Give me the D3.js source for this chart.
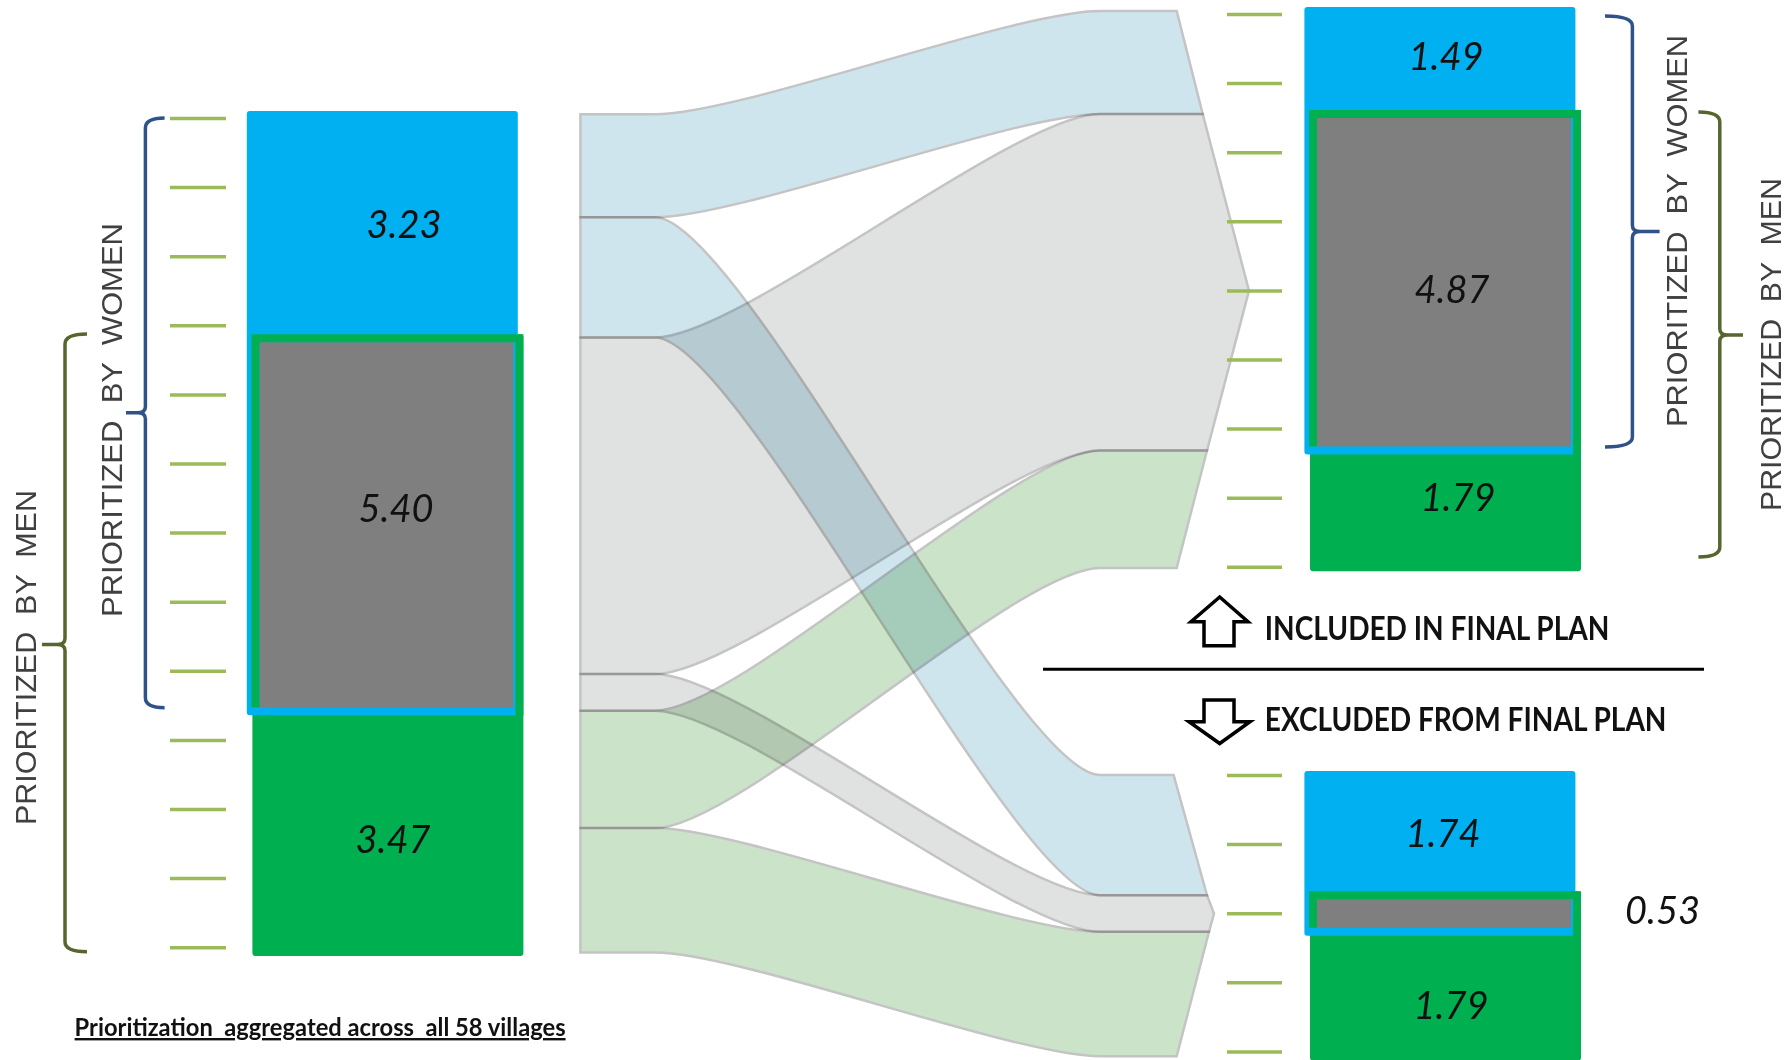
<!DOCTYPE html>
<html>
<head>
<meta charset="utf-8">
<title>Prioritization across villages</title>
<script src="https://d3js.org/d3.v7.min.js"></script>
<style>
  html, body { margin: 0; padding: 0; background: #fff; overflow: hidden; }
  text { white-space: pre; }
</style>
</head>
<body>
<div id="chart"></div>
<script>
// values
const leftValues = [3.23, 5.40, 3.47];
const keptValues = [1.49, 4.87, 1.79];
const droppedValues = [1.74, 0.53, 1.79];
// ribbon thickness as drawn (green ones differ a bit from the printed label)
const keptFlows = [1.49, 4.87, 1.70];
const droppedFlows = [1.74, 0.53, 1.80];
const leftTicks = d3.range(0, 13);
const keptTicks = d3.range(0, 9);
const droppedTicks = d3.range(0, 5);
const womenLabel = "PRIORITIZED  BY  WOMEN";
const menLabel = "PRIORITIZED  BY  MEN";

const width = 1789, height = 1060;
const pxPerUnit = 69.1;
const blue = "#00b0f0", green = "#00b050", gray = "#7f7f7f";
const barW = 271, greenShift = 5.6, edge = 8;

const svg = d3.select("#chart").append("svg")
  .attr("width", width).attr("height", height)
  .style("display", "block");
svg.append("rect").attr("width", width).attr("height", height).attr("fill", "#fff");

const unitScale = (y0) => d3.scaleLinear().domain([0, 1]).range([y0, y0 + pxPerUnit]);

// ---------- ribbons ----------
const ribbonG = svg.append("g");
const leftX = 580.4, flatL = 655, flatR = 1100, handle = 85;
const ribbonColors = ["#cfe5ee", "#e0e1e1", "#cbe3c9"];

// ribbons leave the left column in this order: kept/dropped for each colour
const sourceOrder = [];
keptFlows.forEach((v, i) => {
  sourceOrder.push({ i, v, kept: true });
  sourceOrder.push({ i, v: droppedFlows[i], kept: false });
});
const ySrc = unitScale(114.3);
let srcAt = 0;
sourceOrder.forEach(d => { d.s0 = srcAt; srcAt += d.v; d.s1 = srcAt; });

const keptY = unitScale(11), droppedY = unitScale(775);
const keptCum = d3.cumsum(keptFlows), droppedCum = d3.cumsum(droppedFlows);

// right hand end of the ribbons is a slanted arrow shape
const keptEdge = d3.scaleLinear()
  .domain([0, keptCum[0], keptCum[0] + 0.525 * keptFlows[1], keptCum[1], keptCum[2]])
  .range([1176.7, 1202.7, 1249, 1207, 1176.7]);
const droppedEdge = d3.scaleLinear()
  .domain([0, droppedCum[0], droppedCum[0] + 0.5 * droppedFlows[1], droppedCum[1], droppedCum[2]])
  .range([1173.6, 1207, 1214, 1209, 1176.7]);

function ribbonPath(d) {
  const cum = d.kept ? keptCum : droppedCum;
  const yT = d.kept ? keptY : droppedY;
  const edgeX = d.kept ? keptEdge : droppedEdge;
  const t0 = d.i === 0 ? 0 : cum[d.i - 1], t1 = cum[d.i];
  const p = d3.path();
  p.moveTo(leftX, ySrc(d.s0));
  p.lineTo(flatL, ySrc(d.s0));
  p.bezierCurveTo(flatL + handle, ySrc(d.s0), flatR - handle, yT(t0), flatR, yT(t0));
  p.lineTo(edgeX(t0), yT(t0));
  edgeX.domain().filter(u => u > t0 && u < t1).forEach(u => p.lineTo(edgeX(u), yT(u)));
  p.lineTo(edgeX(t1), yT(t1));
  p.lineTo(flatR, yT(t1));
  p.bezierCurveTo(flatR - handle, yT(t1), flatL + handle, ySrc(d.s1), flatL, ySrc(d.s1));
  p.lineTo(leftX, ySrc(d.s1));
  p.closePath();
  return p.toString();
}

ribbonG.selectAll("path")
  .data(sourceOrder)
  .enter()
  .append("path")
  .attr("d", ribbonPath)
  .attr("fill", d => ribbonColors[d.i])
  .attr("stroke", "#c4c4c4")
  .attr("stroke-width", 2.5)
  .style("mix-blend-mode", "multiply");

// ---------- stacked bars ----------
function drawPanel(cfg) {
  const y = unitScale(cfg.y0);
  const g = svg.append("g");
  const [a, b, c] = cfg.values;
  // green bar first, blue sits over it and the shared part is painted last
  g.append("rect").attr("x", cfg.x + greenShift).attr("y", y(a))
    .attr("width", barW).attr("height", y(a + b + c) + cfg.pad - y(a))
    .attr("rx", 3).attr("fill", green);
  g.append("rect").attr("x", cfg.x).attr("y", y(0))
    .attr("width", barW).attr("height", y(a + b) + edge - y(0))
    .attr("rx", 3).attr("fill", blue);
  g.append("rect").attr("x", cfg.x + greenShift + edge - 1).attr("y", y(a) + edge)
    .attr("width", barW - 2 * edge - 1).attr("height", y(a + b) - y(a) - edge)
    .attr("fill", gray);
  // green frame round the shared part, open at the bottom
  g.append("path")
    .attr("d", `M${cfg.x + greenShift + edge / 2 - 1},${y(a + b)}V${y(a) + edge / 2}H${cfg.x + greenShift + barW - edge / 2}V${y(a + b) + edge}`)
    .attr("fill", "none").attr("stroke", green).attr("stroke-width", edge);

  // ruler ticks, one per unit
  const tickY = unitScale(cfg.tickY0);
  const axis = d3.axisLeft(tickY).tickValues(cfg.ticks).tickSize(cfg.tickLen).tickFormat("");
  const ag = svg.append("g").attr("transform", `translate(${cfg.tickX},0)`).call(axis);
  ag.select(".domain").remove();
  ag.selectAll("line").attr("stroke", "#9bbb59").attr("stroke-width", 3.5);

  // value labels
  svg.append("g").selectAll("text")
    .data(cfg.labels)
    .enter()
    .append("text")
    .attr("x", d => d.x)
    .attr("y", d => d.y)
    .attr("dy", "0.35em")
    .attr("text-anchor", "middle")
    .style("font", "italic 38px Lato")
    .attr("fill", "#111")
    .text((d, i) => cfg.labelValues[i].toFixed(2));
}

drawPanel({
  x: 246.8, y0: 111, pad: 9, values: leftValues, labelValues: leftValues,
  tickY0: 118, ticks: leftTicks, tickX: 226, tickLen: 56,
  labels: [{ x: 404, y: 225 }, { x: 396, y: 509 }, { x: 393, y: 840 }]
});
drawPanel({
  x: 1304.4, y0: 7, pad: 1, values: keptValues, labelValues: keptValues,
  tickY0: 14, ticks: keptTicks, tickX: 1282, tickLen: 55,
  labels: [{ x: 1446, y: 57 }, { x: 1452, y: 290 }, { x: 1458, y: 498 }]
});
drawPanel({
  x: 1304.4, y0: 771, pad: 9, values: droppedValues, labelValues: droppedValues,
  tickY0: 775, ticks: droppedTicks, tickX: 1282, tickLen: 55,
  labels: [{ x: 1443, y: 834 }, { x: 1662.6, y: 911 }, { x: 1451, y: 1006 }]
});

// ---------- braces and rotated labels ----------
function brace(tip, spine, mid, yTop, yMid, yBot, color) {
  const r = 10;
  const p = d3.path();
  const dir = Math.sign(mid - spine);
  p.moveTo(tip, yTop);
  p.quadraticCurveTo(spine, yTop, spine, yTop + r);
  p.lineTo(spine, yMid - 6);
  p.quadraticCurveTo(spine, yMid, spine + dir * 8, yMid);
  p.lineTo(mid, yMid);
  p.moveTo(spine + dir * 8, yMid);
  p.quadraticCurveTo(spine, yMid, spine, yMid + 6);
  p.lineTo(spine, yBot - r);
  p.quadraticCurveTo(spine, yBot, tip, yBot);
  svg.append("path").attr("d", p.toString())
    .attr("fill", "none").attr("stroke", color).attr("stroke-width", 3.5);
}
const braceBlue = "#2f5289", braceGreen = "#56662e";
brace(164.6, 145.4, 126, 118, 412.7, 707.7, braceBlue);
brace(87, 65, 42, 334, 644.5, 951.7, braceGreen);
brace(1605, 1632.4, 1659.6, 16, 231.5, 447, braceBlue);
brace(1698.4, 1719.8, 1743, 112, 335, 557, braceGreen);

function sideLabel(txt, x, y, len) {
  svg.append("text")
    .attr("transform", `translate(${x},${y}) rotate(-90)`)
    .attr("textLength", len)
    .attr("lengthAdjust", "spacingAndGlyphs")
    .style("font", "30px 'Liberation Sans'")
    .attr("fill", "#404040")
    .text(txt);
}
sideLabel(womenLabel, 121.7, 617, 394);
sideLabel(menLabel, 36.4, 825, 335);
sideLabel(womenLabel, 1686.8, 427, 392);
sideLabel(menLabel, 1781, 511, 333);

// ---------- divider, arrows, captions ----------
svg.append("line").attr("x1", 1043).attr("x2", 1704).attr("y1", 669.3).attr("y2", 669.3)
  .attr("stroke", "#000").attr("stroke-width", 3);

const arrowLine = d3.line();
svg.append("path")
  .attr("d", arrowLine([[1219.7, 597], [1248, 621.7], [1234, 621.7], [1234, 645.7], [1204, 645.7], [1204, 621.7], [1191, 621.7]]) + "Z")
  .attr("fill", "#fff").attr("stroke", "#000").attr("stroke-width", 3.5);
svg.append("path")
  .attr("d", arrowLine([[1204, 700], [1234, 700], [1234, 721.7], [1250, 721.7], [1219.7, 743.5], [1189, 721.7], [1204, 721.7]]) + "Z")
  .attr("fill", "#fff").attr("stroke", "#000").attr("stroke-width", 3.5);

function caption(txt, x, y, len, size, underline) {
  svg.append("text")
    .attr("x", x).attr("y", y)
    .attr("textLength", len)
    .attr("lengthAdjust", "spacingAndGlyphs")
    .style("font", `bold ${size}px Lato`)
    .style("text-decoration", underline ? "underline" : "none")
    .attr("fill", "#111")
    .text(txt);
}
caption("INCLUDED IN FINAL PLAN", 1264.8, 640, 344.6, 32);
caption("EXCLUDED FROM FINAL PLAN", 1264.8, 730.7, 401.7, 32);
caption("Prioritization  aggregated across  all 58 villages", 74.6, 1036, 491, 24, true);
</script>
</body>
</html>
